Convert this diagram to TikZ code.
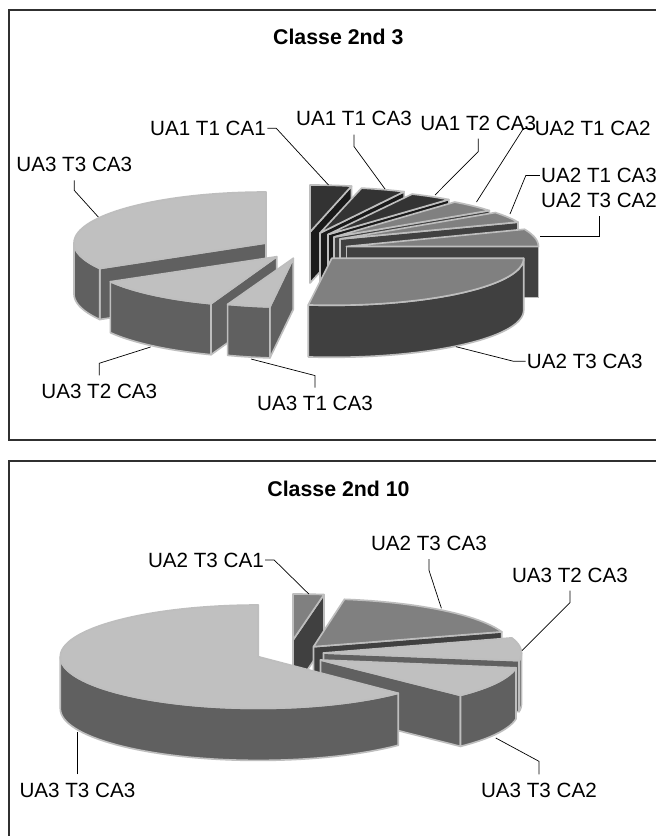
\documentclass[tikz,border=0pt]{standalone}
\usepackage{fontspec}
\setmainfont{Liberation Sans}
\definecolor{darktop}{HTML}{333333}
\definecolor{darkside}{HTML}{1A1A1A}
\definecolor{midtop}{HTML}{808080}
\definecolor{midside}{HTML}{404040}
\definecolor{lighttop}{HTML}{C0C0C0}
\definecolor{lightside}{HTML}{606060}
\definecolor{rimgray}{HTML}{BEBEBE}
\definecolor{framegray}{HTML}{303030}

\begin{document}
\begin{tikzpicture}[x=0.03cm, y=-0.03cm,
    rim/.style={draw=rimgray, line width=1.4pt, line join=round},
    dtop/.style={rim, fill=darktop}, dside/.style={rim, fill=darkside},
    mtop/.style={rim, fill=midtop}, mside/.style={rim, fill=midside},
    ltop/.style={rim, fill=lighttop}, lside/.style={rim, fill=lightside},
    lbl/.style={font=\fontsize{17.6}{20}\selectfont, inner xsep=1pt, inner ysep=7pt},
    ttl/.style={font=\bfseries\fontsize{18.2}{20}\selectfont, inner sep=0pt},
    leader/.style={line width=0.6pt},
    frame/.style={draw=framegray, line width=1pt}]
    \useasboundingbox (0,0) rectangle (656,836);
    \fill [white] (0,0) rectangle (656,836);
    \clip (0,0) rectangle (656,836);
    \draw [frame] (9,10) rectangle (662,440);
    \draw [frame] (9,461) rectangle (662,842);

    % Classe 2nd 3, right part, back to front
    \draw [dside] (310,232) -- ++({192*sin(12.5)},{-47*cos(12.5)}) -- ++(0,51) -- (310,283) -- cycle;
    \draw [dtop] (310,232) -- plot [domain=0:12.5, samples=6] ({310+192*sin(\x)},{232-47*cos(\x)}) -- cycle;
    \draw [dside] (320,233) -- ++({192*sin(26)},{-46*cos(26)}) -- ++(0,51) -- (320,284) -- cycle;
    \draw [dtop] (320,233) -- plot [domain=12.5:26, samples=6] ({320+192*sin(\x)},{233-46*cos(\x)}) -- cycle;
    \draw [dside] (328,234.5) -- ++({192*sin(39)},{-45*cos(39)}) -- ++(0,51) -- (328,285.5) -- cycle;
    \draw [dtop] (328,234.5) -- plot [domain=26:39, samples=6] ({328+192*sin(\x)},{234.5-45*cos(\x)}) -- cycle;
    \draw [mside] (334,237) -- ++({192*sin(54)},{-45*cos(54)}) -- ++(0,51) -- (334,288) -- cycle;
    \draw [mtop] (334,237) -- plot [domain=39:54, samples=6] ({334+192*sin(\x)},{237-45*cos(\x)}) -- cycle;
    \draw [mside] (340,239) -- ++({192*sin(68)},{-45*cos(68)}) -- ++(0,51) -- (340,290) -- cycle;
    \draw [mtop] (340,239) -- plot [domain=54:68, samples=6] ({340+192*sin(\x)},{239-45*cos(\x)}) -- cycle;
    \draw [mside] (346.5,246.5) rectangle (538.5,297.5);
    \draw [mtop] (346.5,246.5) -- plot [domain=68:90, samples=8] ({346.5+192*sin(\x)},{246.5-46*cos(\x)}) -- cycle;
    \draw [mside] plot [domain=90:187, samples=40] ({331.7+192*sin(\x)},{258.3-47*cos(\x)}) -- plot [domain=187:90, samples=40] ({331.7+192*sin(\x)},{310.3-47*cos(\x)}) -- cycle;
    \draw [mtop] (331.7,258.3) -- plot [domain=90:187, samples=40] ({331.7+192*sin(\x)},{258.3-47*cos(\x)}) -- cycle;

    % Classe 2nd 3, left part
    \draw [lside] (266,243) -- ++({192*sin(240)},{-51*cos(240)}) -- ++(0,51) -- (266,294) -- cycle;
    \draw [lside] plot [domain=240:270, samples=12] ({266+192*sin(\x)},{243-51*cos(\x)}) -- plot [domain=270:240, samples=12] ({266+192*sin(\x)},{294-51*cos(\x)}) -- cycle;
    \draw [ltop] (266,243) -- plot [domain=240:360, samples=50] ({266+192*sin(\x)},{243-51*cos(\x)}) -- cycle;
    \draw [lside] (276.7,256.7) -- ++({192*sin(200)},{-50*cos(200)}) -- ++(0,51) -- (276.7,307.7) -- cycle;
    \draw [lside] plot [domain=200:240, samples=16] ({276.7+192*sin(\x)},{256.7-50*cos(\x)}) -- plot [domain=240:200, samples=16] ({276.7+192*sin(\x)},{307.7-50*cos(\x)}) -- cycle;
    \draw [ltop] (276.7,256.7) -- plot [domain=200:240, samples=16] ({276.7+192*sin(\x)},{256.7-50*cos(\x)}) -- cycle;
    \draw [lside] (293.3,258.3) -- ++({192*sin(187)},{-49*cos(187)}) -- ++(0,51) -- (293.3,309.3) -- cycle;
    \draw [lside] plot [domain=187:200, samples=6] ({293.3+192*sin(\x)},{258.3-49*cos(\x)}) -- plot [domain=200:187, samples=6] ({293.3+192*sin(\x)},{309.3-49*cos(\x)}) -- cycle;
    \draw [ltop] (293.3,258.3) -- plot [domain=187:200, samples=6] ({293.3+192*sin(\x)},{258.3-49*cos(\x)}) -- cycle;

    % Classe 2nd 10
    \draw [mside] (293,640) -- ++({198*sin(9)},{-46*cos(9)}) -- ++(0,51) -- (293,691) -- cycle;
    \draw [mtop] (293,640) -- plot [domain=0:9, samples=5] ({293+198*sin(\x)},{640-46*cos(\x)}) -- cycle;
    \draw [mside] (313.5,646.7) -- ++({198*sin(72)},{-48*cos(72)}) -- ++(0,51) -- (313.5,697.7) -- cycle;
    \draw [mtop] (313.5,646.7) -- plot [domain=9:72, samples=25] ({313.5+198*sin(\x)},{646.7-48*cos(\x)}) -- cycle;
    \draw [lside] (323.5,653) -- ++({198*sin(99)},{-49*cos(99)}) -- ++(0,51) -- (323.5,704) -- cycle;
    \draw [lside] plot [domain=90:99, samples=5] ({323.5+198*sin(\x)},{653-49*cos(\x)}) -- plot [domain=99:90, samples=5] ({323.5+198*sin(\x)},{704-49*cos(\x)}) -- cycle;
    \draw [ltop] (323.5,653) -- plot [domain=72:99, samples=12] ({323.5+198*sin(\x)},{653-49*cos(\x)}) -- cycle;
    \draw [lside] (320.5,660) -- ++({198*sin(135)},{-50*cos(135)}) -- ++(0,51) -- (320.5,711) -- cycle;
    \draw [lside] plot [domain=99:135, samples=14] ({320.5+198*sin(\x)},{660-50*cos(\x)}) -- plot [domain=135:99, samples=14] ({320.5+198*sin(\x)},{711-50*cos(\x)}) -- cycle;
    \draw [ltop] (320.5,660) -- plot [domain=99:135, samples=14] ({320.5+198*sin(\x)},{660-50*cos(\x)}) -- cycle;
    \draw [lside] plot [domain=135:270, samples=50] ({258.3+198*sin(\x)},{656.7-51.7*cos(\x)}) -- plot [domain=270:135, samples=50] ({258.3+198*sin(\x)},{708.7-51.7*cos(\x)}) -- cycle;
    \draw [ltop] (258.3,656.7) -- plot [domain=135:360, samples=80] ({258.3+198*sin(\x)},{656.7-51.7*cos(\x)}) -- cycle;

    % titles and labels
    \node [ttl] (title1) at (338.3,36.7) {Classe 2nd 3};
    \node [ttl] (title2) at (338.5,489) {Classe 2nd 10};

    \node [lbl] (t1) at (208,128.3) {UA1 T1 CA1};
    \node [lbl] (t2) at (354,118.8) {UA1 T1 CA3};
    \node [lbl] (t3) at (478.2,123) {UA1 T2 CA3};
    \node [lbl] (t4) at (592.7,128.5) {UA2 T1 CA2};
    \node [lbl, anchor=west] (t5) at (539.8,175.5) {UA2 T1 CA3};
    \node [lbl, anchor=west] (t6) at (539.8,200.5) {UA2 T3 CA2};
    \node [lbl] (t7) at (584.8,361.3) {UA2 T3 CA3};
    \node [lbl] (t8) at (315,403.3) {UA3 T1 CA3};
    \node [lbl] (t9) at (99.3,391) {UA3 T2 CA3};
    \node [lbl] (t10) at (74.3,164.7) {UA3 T3 CA3};

    \node [lbl] (b1) at (205.9,560) {UA2 T3 CA1};
    \node [lbl] (b2) at (428.9,543.3) {UA2 T3 CA3};
    \node [lbl] (b3) at (569.9,575) {UA3 T2 CA3};
    \node [lbl] (b4) at (538.9,790) {UA3 T3 CA2};
    \node [lbl] (b5) at (77.4,790) {UA3 T3 CA3};

    \coordinate (p1) at (328.5,185);
    \coordinate (p2) at (385,189);
    \coordinate (p3) at (435,195);
    \coordinate (p4) at (476.5,202);
    \coordinate (p5) at (510,214);
    \coordinate (p6) at (539.5,236.5);
    \coordinate (p7) at (456,346.7);
    \coordinate (p8) at (251,359);
    \coordinate (p9) at (150.6,347);
    \coordinate (p10) at (98.3,217);
    \coordinate (q1) at (308.8,594);
    \coordinate (q2) at (441.4,608.3);
    \coordinate (q3) at (522,650.5);
    \coordinate (q4) at (495.8,738);
    \coordinate (q5) at (77.4,731.5);

    \draw [leader] (t1.east) -- ++(9,0) -- (p1);
    \draw [leader] (t2.south) -- ++(0,12) -- (p2);
    \draw [leader] (t3.south) -- ++(0,13) -- (p3);
    \draw [leader] (t4.west) -- ++(-10,0) -- (p4);
    \draw [leader] (t5.west) -- ++(-14,0) -- (p5);
    \draw [leader] (t6.south) -- (t6.south |- p6) -- (p6);
    \draw [leader] (t7.west) -- ++(-12,0) -- (p7);
    \draw [leader] (t8.north) -- ++(0,-12) -- (p8);
    \draw [leader] (t9.north) -- ++(0,-12) -- (p9);
    \draw [leader] (t10.south) -- ++(0,10) -- (p10);
    \draw [leader] (b1.east) -- ++(9,0) -- (q1);
    \draw [leader] (b2.south) -- ++(0,11) -- (q2);
    \draw [leader] (b3.south) -- ++(0,12) -- (q3);
    \draw [leader] (b4.north) -- ++(0,-13) -- (q4);
    \draw [leader] (b5.north) -- (q5);
\end{tikzpicture}
\end{document}
